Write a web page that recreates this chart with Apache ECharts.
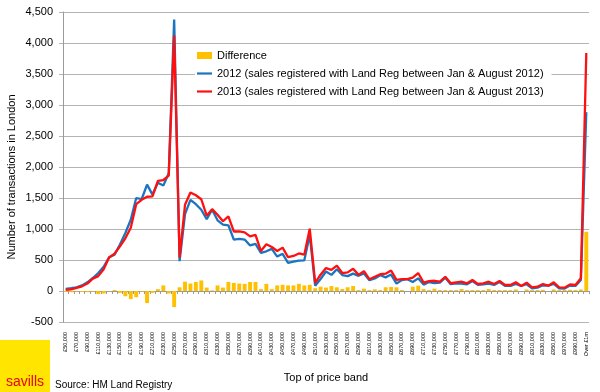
<!DOCTYPE html>
<html><head><meta charset="utf-8">
<script src="https://cdn.jsdelivr.net/npm/echarts@6/dist/echarts.min.js"></script>
<style>html,body{margin:0;padding:0;background:#fff}#c{width:600px;height:392px}</style>
</head><body><div id="c"></div>
<script>
var categories = ['£50,000','£60,000','£70,000','£80,000','£90,000','£100,000','£110,000','£120,000','£130,000','£140,000',
'£150,000','£160,000','£170,000','£180,000','£190,000','£200,000','£210,000','£220,000','£230,000','£240,000',
'£250,000','£260,000','£270,000','£280,000','£290,000','£300,000','£310,000','£320,000','£330,000','£340,000',
'£350,000','£360,000','£370,000','£380,000','£390,000','£400,000','£410,000','£420,000','£430,000','£440,000',
'£450,000','£460,000','£470,000','£480,000','£490,000','£500,000','£510,000','£520,000','£530,000','£540,000',
'£550,000','£560,000','£570,000','£580,000','£590,000','£600,000','£610,000','£620,000','£630,000','£640,000',
'£650,000','£660,000','£670,000','£680,000','£690,000','£700,000','£710,000','£720,000','£730,000','£740,000',
'£750,000','£760,000','£770,000','£780,000','£790,000','£800,000','£810,000','£820,000','£830,000','£840,000',
'£850,000','£860,000','£870,000','£880,000','£890,000','£900,000','£910,000','£920,000','£930,000','£940,000',
'£950,000','£960,000','£970,000','£980,000','£990,000','£1,000,000','Over £1m'];

var sales2012 = [35,45,60,90,140,210,290,390,545,585,750,935,1150,1500,1480,1715,1555,1745,1700,1900,4380,
480,1240,1470,1400,1310,1160,1310,1140,1070,1060,830,840,830,735,760,615,640,680,555,600,455,475,490,495,905,
85,193,315,260,350,258,240,280,245,282,175,203,255,220,265,120,175,190,145,204,103,145,127,135,215,110,125,118,
109,162,98,109,118,98,146,82,82,115,81,109,44,55,93,86,115,44,39,87,82,179,2885];

var sales2013 = [20,25,50,75,120,200,240,350,540,600,720,850,1020,1400,1470,1520,1525,1775,1790,1860,4120,
540,1390,1590,1545,1480,1215,1320,1230,1125,1205,960,960,945,880,905,645,755,710,645,700,545,565,605,585,1005,
130,263,370,340,410,290,300,360,260,320,190,230,270,280,330,180,190,190,215,290,135,160,165,150,230,125,140,150,
124,177,113,124,150,113,161,97,97,140,81,134,59,70,113,86,140,59,54,107,97,204,3840];

var difference = [-15,-20,-10,-15,-20,-10,-50,-40,-5,15,-30,-85,-130,-100,-10,-195,-30,30,90,-40,-260,
60,150,120,145,170,55,10,90,55,145,130,120,115,145,145,30,115,30,90,100,90,90,115,90,100,
45,70,55,80,60,32,60,80,15,38,15,27,15,60,65,60,15,0,70,86,32,15,38,15,15,15,15,32,
15,15,15,15,32,15,15,15,15,25,0,25,15,15,20,0,25,15,15,20,15,25,955];

var seriesNames = ['Difference',
  '2012 (sales registered with Land Reg between Jan & August 2012)',
  '2013 (sales registered with Land Reg between Jan & August 2013)'];

var FONT = "'Liberation Sans', Arial, sans-serif";
var LINE_ICON = 'path://M0,0H15V2.2H0Z';
var chart = echarts.init(document.getElementById('c'), null, {renderer:'canvas'});
chart.setOption({
  animation: false,
  backgroundColor: '#fff',
  textStyle: {fontFamily: FONT},
  grid: {left: 63, right: 11, top: 12, bottom: 70, containLabel: false},
  legend: {
    orient: 'vertical', left: 195, top: 48,
    padding: [2, 8, 2, 2], itemGap: 7,
    itemWidth: 15, itemHeight: 7, symbolKeepAspect: true,
    backgroundColor: '#fff',
    textStyle: {fontFamily: FONT, fontSize: 11, color: '#000'},
    data: [{name: seriesNames[0], icon: 'rect'},
           {name: seriesNames[1], icon: LINE_ICON},
           {name: seriesNames[2], icon: LINE_ICON}]
  },
  xAxis: [{
    type: 'category', data: categories, position: 'bottom',
    axisLine: {show: false, onZero: false},
    axisTick: {show: false},
    axisLabel: {interval: 1, rotate: 90, fontSize: 5.5, margin: 10, color: '#000', fontFamily: FONT},
    splitLine: {show: false}
  }, {
    type: 'category', data: categories, position: 'top',
    axisLine: {show: true, onZero: true, lineStyle: {color: '#9a9a9a', width: 1}},
    axisTick: {show: true, inside: true, interval: 0, length: 3, lineStyle: {color: '#9a9a9a'}},
    axisLabel: {show: false},
    splitLine: {show: false}
  }],
  yAxis: {
    type: 'value', min: -500, max: 4500, interval: 500,
    axisLine: {show: true, lineStyle: {color: '#9a9a9a'}},
    axisTick: {show: true, length: 4, lineStyle: {color: '#b4b4b4'}},
    axisLabel: {fontSize: 11, color: '#000', margin: 10, fontFamily: FONT},
    splitLine: {show: true, lineStyle: {color: '#b4b4b4', width: 1}}
  },
  series: [{
    name: seriesNames[0], type: 'bar', data: difference, xAxisIndex: 0,
    barWidth: '72%', itemStyle: {color: '#FFC000'}
  }, {
    name: seriesNames[1], type: 'line', data: sales2012, xAxisIndex: 0,
    symbol: 'none', lineStyle: {color: '#1a74c0', width: 2.3}, itemStyle: {color: '#1a74c0'}
  }, {
    name: seriesNames[2], type: 'line', data: sales2013, xAxisIndex: 0,
    symbol: 'none', lineStyle: {color: '#ff1010', width: 2.3}, itemStyle: {color: '#ff1010'}
  }],
  graphic: [
    {type: 'text', rotation: Math.PI / 2, x: 12, y: 177,
     style: {text: 'Number of transactions in London', fontSize: 11, fontFamily: FONT, fill: '#000', align: 'center', verticalAlign: 'middle'}},
    {type: 'text', x: 326, y: 378,
     style: {text: 'Top of price band', fontSize: 11, fontFamily: FONT, fill: '#000', align: 'center', verticalAlign: 'middle'}},
    {type: 'text', x: 55, y: 385,
     style: {text: 'Source: HM Land Registry', fontSize: 10, fontFamily: FONT, fill: '#000', align: 'left', verticalAlign: 'middle'}},
    {type: 'rect', shape: {x: 0, y: 340, width: 50, height: 52}, style: {fill: '#FFE500'}},
    {type: 'text', x: 25, y: 382,
     style: {text: 'savills', fontSize: 14, fontFamily: FONT, fill: '#E30613', align: 'center', verticalAlign: 'middle'}}
  ]
});
</script></body></html>
